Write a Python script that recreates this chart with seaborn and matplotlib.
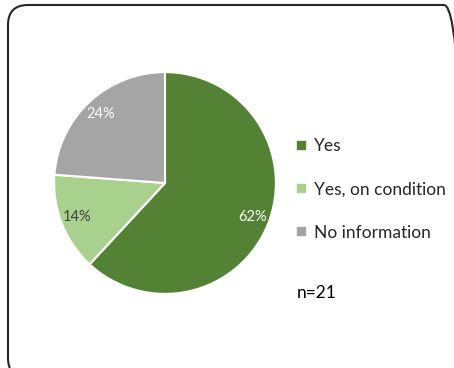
import matplotlib
matplotlib.use("Agg")
import matplotlib.pyplot as plt
import seaborn as sns
from matplotlib.lines import Line2D
from matplotlib.patches import FancyBboxPatch
from matplotlib.transforms import IdentityTransform

# answers (n=21)
categories = ["Yes", "Yes, on condition", "No information"]
counts = [13, 3, 5]
sample_note = "n=21"

colors = ["#548235", "#A9D18E", "#A5A5A5"]
label_colors = ["#FFFFFF", "#404040", "#FFFFFF"]

sns.set_theme(style="white")
plt.rcParams['font.family'] = ['Lato', 'DejaVu Sans']

W, H = 454, 368
fig = plt.figure(figsize=(W / 100, H / 100), dpi=100)

# pie centre ~ (165, 183) px, radius ~ 112 px
cx, cy, r = 165, 183, 112
ax = fig.add_axes([(cx - r) / W, (H - cy - r) / H, 2 * r / W, 2 * r / H])

wedges, texts, autotexts = ax.pie(
    counts, colors=colors, startangle=90, counterclock=False,
    autopct=lambda p: f"{p:.0f}%", pctdistance=0.85,
    wedgeprops=dict(edgecolor="white", linewidth=1.5),
    textprops=dict(fontsize=10.5))
for t, c in zip(autotexts, label_colors):
    t.set_color(c)
ax.set_aspect("equal")
ax.set_xlim(-1.01, 1.01)
ax.set_ylim(-1.01, 1.01)
ax.axis("off")

handles = [Line2D([0], [0], marker="s", linestyle="", markersize=6,
                  markerfacecolor=c, markeredgecolor=c) for c in colors]
fig.legend(handles, categories, loc="upper left",
           bbox_to_anchor=(296 / W, 1 - 138 / H), frameon=False,
           fontsize=12.5, handlelength=0.6, handletextpad=0.45,
           labelspacing=1.57, borderpad=0, borderaxespad=0)

fig.text(297 / W, 1 - 293 / H, sample_note, fontsize=12.5, va="center",
         ha="left", color="#000000")

# rounded outer frame (right and bottom edges just outside the image)
frame = FancyBboxPatch((8, -10), 456, H - 5 + 10,
                       boxstyle="round,pad=0,rounding_size=20",
                       transform=IdentityTransform(), fill=False,
                       edgecolor="#262626", linewidth=1.5)
fig.add_artist(frame)

fig.savefig("out.png", dpi=100)
